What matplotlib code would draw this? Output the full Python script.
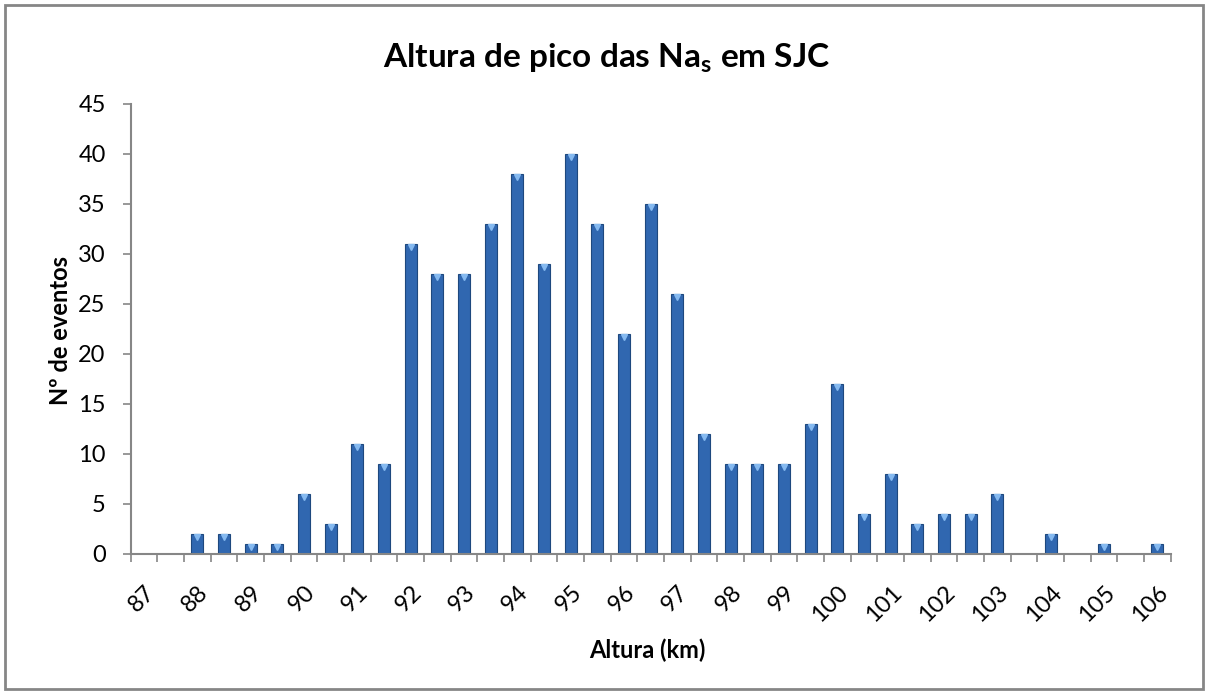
import numpy as np
import matplotlib
matplotlib.use("Agg")
import matplotlib.pyplot as plt
from matplotlib.patches import Rectangle

plt.rcParams["font.family"] = ["Lato", "DejaVu Sans"]
plt.rcParams["mathtext.fontset"] = "custom"
plt.rcParams["mathtext.rm"] = "Lato"
plt.rcParams["mathtext.bf"] = "Lato:bold"

# ===== data =====
alturas = [87, 87.5, 88, 88.5, 89, 89.5, 90, 90.5, 91, 91.5, 92, 92.5, 93, 93.5,
           94, 94.5, 95, 95.5, 96, 96.5, 97, 97.5, 98, 98.5, 99, 99.5, 100, 100.5,
           101, 101.5, 102, 102.5, 103, 103.5, 104, 104.5, 105, 105.5, 106]
eventos = [0, 0, 2, 2, 1, 1, 6, 3, 11, 9, 31, 28, 28, 33,
           38, 29, 40, 33, 22, 35, 26, 12, 9, 9, 9, 13, 17, 4,
           8, 3, 4, 4, 6, 0, 2, 0, 1, 0, 1]
yticks = [0, 5, 10, 15, 20, 25, 30, 35, 40, 45]

grey = "#868686"

fig = plt.figure(figsize=(12.07, 6.95), dpi=100)
ax = fig.add_axes([0.1083, 0.2029, 0.8617, 0.6475])

x = np.arange(len(alturas))
vals = np.array(eventos)
ax.bar(x, vals, width=0.45, color="#3067B0", edgecolor="#1E487E", linewidth=0.8, zorder=2)
# light bevel on top of each bar
mask = vals > 0
ax.plot(x[mask], vals[mask] - 0.35, linestyle="none", marker="v", markersize=5,
        color="#86BAF0", zorder=3)

ax.set_xlim(-0.5, len(alturas) - 0.5)
ax.set_ylim(0, 45)
ax.set_yticks(yticks)
ax.set_yticklabels([str(v) for v in yticks], fontsize=17)

# ticks at category boundaries, labels on integer heights
ax.set_xticks(np.arange(len(alturas) + 1) - 0.5)
ax.set_xticklabels([])
lab_pos = [i for i, a in enumerate(alturas) if float(a).is_integer()]
ax.set_xticks(lab_pos, minor=True)
ax.set_xticklabels([str(int(alturas[i])) for i in lab_pos], minor=True,
                   rotation=45, ha="right", va="top", rotation_mode="anchor", fontsize=17)
ax.tick_params(axis="x", which="minor", length=0, pad=20)
ax.tick_params(axis="x", which="major", length=6, color=grey, width=1.2, direction="out")
ax.tick_params(axis="y", length=6, color=grey, width=1.2, direction="out", pad=12)

for s in ["top", "right"]:
    ax.spines[s].set_visible(False)
for s in ["left", "bottom"]:
    ax.spines[s].set_color(grey)
    ax.spines[s].set_linewidth(1.5)

fig.text(0.503, 0.917, r"Altura de pico das Na$_{\mathbf{s}}$ em SJC", ha="center",
         va="center", fontsize=24, fontweight="bold")
fig.text(0.05, 0.525, "Nº de eventos", rotation=90, ha="center", va="center",
         fontsize=17, fontweight="bold")
fig.text(0.536, 0.065, "Altura (km)", ha="center", va="center", fontsize=17,
         fontweight="bold")

fig.patches.append(Rectangle((0.004, 0.008), 0.993, 0.985, transform=fig.transFigure,
                             fill=False, edgecolor=grey, linewidth=2))

fig.savefig("out.png", dpi=100)
